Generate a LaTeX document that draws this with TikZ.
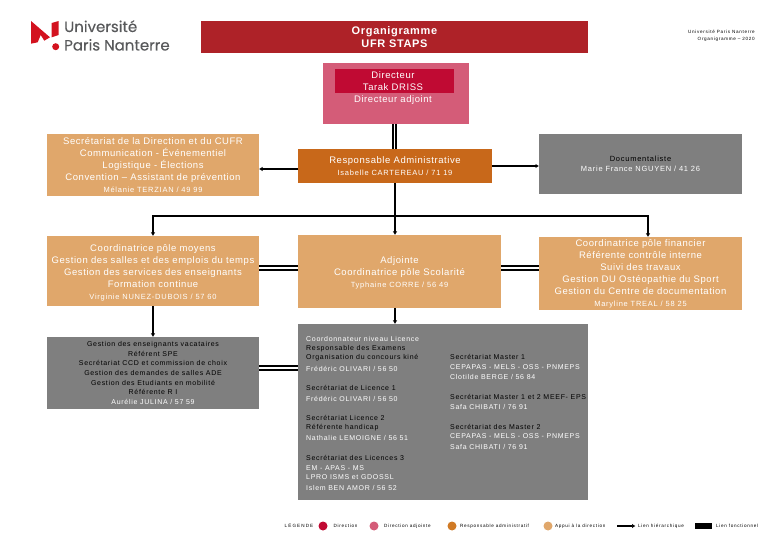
\documentclass[tikz,border=0pt]{standalone}
\usepackage{fontspec}
\setmainfont[LetterSpace=6]{Liberation Sans}
\newfontfamily\nmfam[LetterSpace=10]{Liberation Sans}
\newfontfamily\tinyfam[LetterSpace=15]{Liberation Sans}
\newfontfamily\widefam[LetterSpace=24]{Liberation Sans}
\newfontfamily\logofam[FakeBold=0.35]{Poppins}
\newcommand{\nmf}{\nmfam\fontsize{7.5}{12}\selectfont}
\newcommand{\smf}{\nmfam\fontsize{7}{9.7}\selectfont}
\newcommand{\tnf}{\tinyfam\fontsize{4.6}{7}\selectfont}
\definecolor{titlered}{HTML}{AE2228}
\definecolor{dirpink}{HTML}{D45C78}
\definecolor{dirred}{HTML}{C00A33}
\definecolor{respor}{HTML}{C8681A}
\definecolor{tan}{HTML}{E0A76B}
\definecolor{grayb}{HTML}{7F7F7F}
\definecolor{logored}{HTML}{D3121F}
\definecolor{logogray}{HTML}{58595B}
\definecolor{legor}{HTML}{D07A25}
\tikzset{
  box/.style={anchor=north west,inner sep=0pt,outer sep=0pt,text=white,align=center,font=\fontsize{9.5}{12}\selectfont},
  hier/.style={line width=1.5pt,black,-{Latex[length=3.5pt,width=4.5pt]}},
  plainl/.style={line width=1.5pt,black},
  dbl/.style={line width=1.8pt,black,double=white,double distance=1.5pt},
  col/.style={anchor=west,inner sep=0pt,font=\smf,text=white},
  legtxt/.style={anchor=west,inner sep=0pt,font=\tnf,text=black},
  legdot/.style={circle,inner sep=0pt,minimum size=9pt}
}
\usetikzlibrary{arrows.meta}
\begin{document}
\begin{tikzpicture}[x=1pt,y=-1pt]
\useasboundingbox (0,0) rectangle (780,540);
% logo
\fill[logored] (31,21) -- (50,37.3) -- (44.3,40.7) -- (40.7,35) -- (37.7,42.3) -- (31,43.7) -- cycle;
\fill[logored] (51.7,23) -- (58.7,21) -- (58.7,35) -- (51.7,37.3) -- cycle;
\fill[logored] (55.7,46.7) circle (3.5);
\node[anchor=base west,inner sep=0pt,text=logogray,font=\logofam\fontsize{15}{17}\selectfont] (logoa) at (64,32) {Université};
\node[anchor=base west,inner sep=0pt,text=logogray,font=\logofam\fontsize{15}{17}\selectfont] (logob) at (64,50.5) {Paris Nanterre};
% title
\node[box,fill=titlered,minimum width=387pt,minimum height=32pt,font=\bfseries\fontsize{11}{13.5}\selectfont] (title) at (201,21) {Organigramme\\UFR STAPS};
\node[anchor=north east,inner sep=0pt,align=right,font=\tnf] (org) at (755,30) {Université Paris Nanterre\\Organigramme – 2020};
% director
\node[box,fill=dirpink,minimum width=146pt,minimum height=61pt] (dir) at (323,63) {};
\node[box,fill=dirred,minimum width=119pt,minimum height=24pt] (dirin) at (335,69) {};
\node[anchor=north,inner sep=0pt,text=white,align=center,font=\fontsize{9.5}{12}\selectfont] (dirtxt) at (393,71.5) {Directeur\\Tarak DRISS\\Directeur adjoint};
% boxes
\node[box,fill=tan,minimum width=212pt,minimum height=62pt] (sec) at (47,134) {Secrétariat de la Direction et du CUFR\\Communication - Événementiel\\Logistique - Élections\\Convention – Assistant de prévention\\{\nmf Mélanie TERZIAN / 49 99}};
\node[box,fill=respor,minimum width=194pt,minimum height=34pt] (resp) at (298,149) {Responsable Administrative\\{\nmf Isabelle CARTEREAU / 71 19}};
\node[box,fill=grayb,minimum width=203pt,minimum height=60pt,font=\nmfam\fontsize{7.5}{10}\selectfont] (doc) at (539,134) {\textcolor{black}{Documentaliste}\\Marie France NGUYEN / 41 26};
\node[box,fill=tan,minimum width=212pt,minimum height=70pt] (moy) at (47,236) {\rule{0pt}{11pt}Coordinatrice  pôle moyens\\Gestion des salles et des emplois  du temps\\Gestion des services des enseignants\\Formation continue\\{\nmf Virginie NUNEZ-DUBOIS / 57 60}};
\node[box,fill=tan,minimum width=203pt,minimum height=73pt] (adj) at (298,235) {\rule{0pt}{9pt}Adjointe\\Coordinatrice pôle Scolarité\\{\nmf Typhaine CORRE / 56 49}};
\node[box,fill=tan,minimum width=203pt,minimum height=73pt] (fin) at (539,237) {Coordinatrice pôle financier\\Référente contrôle interne\\Suivi des travaux\\Gestion DU Ostéopathie du Sport\\Gestion du Centre de documentation\\{\nmf Maryline TREAL / 58 25}};
\node[box,fill=grayb,minimum width=212pt,minimum height=72pt,text=black,font=\smf] (vac) at (47,337) {Gestion des enseignants vacataires\\Référent SPE\\Secrétariat  CCD et commission de choix\\Gestion des demandes de salles ADE\\Gestion des Etudiants en mobilité\\Référente R I\\\textcolor{white}{Aurélie JULINA / 57 59}};
\node[box,fill=grayb,minimum width=290pt,minimum height=176pt] (big) at (298,324) {};
% big box text, left
\node[col] (l1) at (306,339) {Coordonnateur niveau Licence};
\node[col,text=black] (l2) at (306,349) {Responsable des Examens};
\node[col,text=black] (l3) at (306,358) {Organisation du concours kiné};
\node[col] (l4) at (306,369) {Frédéric OLIVARI / 56 50};
\node[col,text=black] (l5) at (306,388) {Secrétariat de Licence 1};
\node[col] (l6) at (306,399) {Frédéric OLIVARI / 56 50};
\node[col,text=black] (l7) at (306,418) {Secrétariat Licence 2};
\node[col,text=black] (l8) at (306,428) {Référente handicap};
\node[col] (l9) at (306,438) {Nathalie LEMOIGNE / 56 51};
\node[col,text=black] (l10) at (306,458) {Secrétariat des Licences 3};
\node[col] (l11) at (306,468) {EM - APAS - MS};
\node[col] (l12) at (306,477) {LPRO ISMS et GDOSSL};
\node[col] (l13) at (306,488) {Islem BEN AMOR / 56 52};
% big box text, right
\node[col,text=black] (r1) at (450,357) {Secrétariat  Master 1};
\node[col] (r2) at (450,367) {CEPAPAS - MELS - OSS - PNMEPS};
\node[col] (r3) at (450,377) {Clotilde BERGE / 56 84};
\node[col,text=black] (r4) at (450,397) {Secrétariat Master 1 et 2 MEEF- EPS};
\node[col] (r5) at (450,407) {Safa CHIBATI / 76 91};
\node[col,text=black] (r6) at (450,427) {Secrétariat des Master 2};
\node[col] (r7) at (450,436) {CEPAPAS - MELS - OSS - PNMEPS};
\node[col] (r8) at (450,447) {Safa CHIBATI / 76 91};
% connectors
\coordinate (yb) at (0,216);
\coordinate (xb) at (395,0);
\coordinate (yc) at (0,268);
\coordinate (yd) at (0,368);
\coordinate (ye) at (0,169);
\coordinate (yf) at (0,166);
\coordinate (xf) at (648,0);
\coordinate (xd) at (394.5,0);
\draw[dbl] (xd |- dir.south) -- (xd |- resp.north);
\draw[hier] (resp.west |- ye) -- (sec.east |- ye);
\draw[hier] (resp.east |- yf) -- (doc.west |- yf);
\draw[plainl] (xb |- resp.south) -- (xb |- yb);
\draw[hier] (xb |- yb) -- (xb |- adj.north);
\draw[hier] (xb |- yb) -| (moy.north);
\draw[hier] (xb |- yb) -| (xf |- fin.north);
\draw[dbl] (moy.east |- yc) -- (adj.west |- yc);
\draw[dbl] (adj.east |- yc) -- (fin.west |- yc);
\draw[hier] (moy.south) -- (vac.north);
\draw[hier] (xb |- adj.south) -- (xb |- big.north);
\draw[dbl] (vac.east |- yd) -- (big.west |- yd);
% legend
\node[legtxt,font=\widefam\fontsize{4.6}{7}\selectfont] (lg0) at (284.5,526) {LÉGENDE};
\node[legdot,fill=dirred] (d1) at (323,526) {};
\node[legtxt] (lg1) at (333.5,526) {Direction};
\node[legdot,fill=dirpink] (d2) at (374,526) {};
\node[legtxt] (lg2) at (384,526) {Direction adjointe};
\node[legdot,fill=legor] (d3) at (452,526) {};
\node[legtxt] (lg3) at (460,526) {Responsable administratif};
\node[legdot,fill=tan] (d4) at (548,526) {};
\node[legtxt] (lg4) at (555,526) {Appui à la direction};
\coordinate (ha) at (617,526);
\coordinate (hb) at (635.5,526);
\draw[hier] (ha) -- (hb);
\node[legtxt] (lg5) at (638,526) {Lien hiérarchique};
\node[fill=black,inner sep=0pt,minimum width=17pt,minimum height=6pt] (fk) at (703.5,526) {};
\node[legtxt] (lg6) at (716,526) {Lien fonctionnel};
\end{tikzpicture}
\end{document}
